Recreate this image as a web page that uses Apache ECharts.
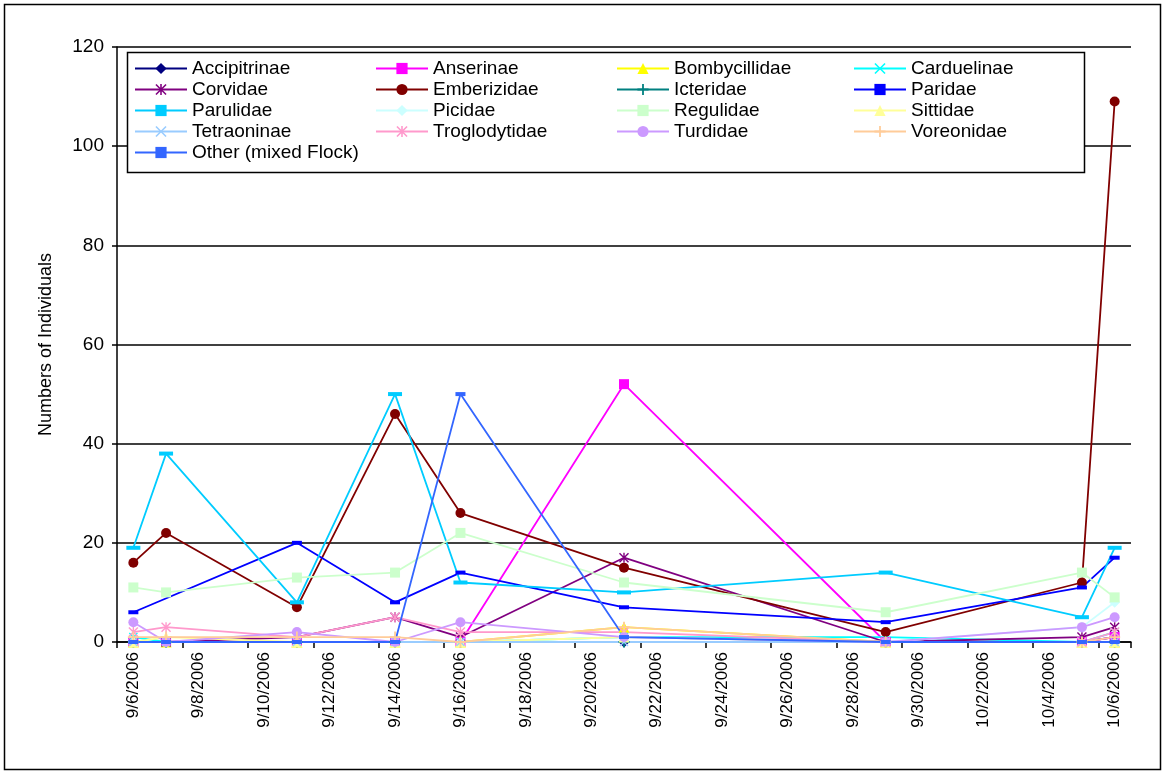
<!DOCTYPE html>
<html>
<head>
<meta charset="utf-8">
<script src="https://cdn.jsdelivr.net/npm/echarts@6/dist/echarts.min.js"></script>
<style>
  html, body { margin: 0; padding: 0; background: #fff; }
  #chart { width: 1167px; height: 775px; }
</style>
</head>
<body>
<div id="chart"></div>
<script>
// Survey days (axis runs day by day from the first to the last survey)
const firstDay = '2006-09-06';
const lastDay = '2006-10-06';
const surveyDates = ['2006-09-06', '2006-09-07', '2006-09-11', '2006-09-14', '2006-09-16',
                     '2006-09-21', '2006-09-29', '2006-10-05', '2006-10-06'];

// Counts per family, one value per survey date (null = not recorded)
const accipitrinae  = [0, 0, 0, 0, 0, 0, 0, 0, 1];
const anserinae     = [0, 0, 0, 0, 0, 52, 0, 0, 1];
const bombycillidae = [0, 0, 0, 0, 0, 3, 0, 0, 0];
const carduelinae   = [1, 0, 0, 0, 0, 1, 1, 0, 2];
const corvidae      = [0, 0, 1, 5, 1, 17, 0, 1, 3];
const emberizidae   = [16, 22, 7, 46, 26, 15, 2, 12, 109];
const icteridae     = [0, 0, 0, 0, 0, 0, 0, 0, 0];
const paridae       = [6, null, 20, 8, 14, 7, 4, 11, 17];
const parulidae     = [19, 38, 8, 50, 12, 10, 14, 5, 19];
const picidae       = [0, 0, 0, 0, 0, 1, 0, 3, 8];
const regulidae     = [11, 10, 13, 14, 22, 12, 6, 14, 9];
const sittidae      = [0, 1, 0, 0, 0, 1, 0, 0, 0];
const tetraoninae   = [0, 0, 0, 0, 0, 0, 0, 0, 0];
const troglodytidae = [2, 3, 1, 5, 2, 2, 0, 0, 2];
const turdidae      = [4, 0, 2, 0, 4, 1, 0, 3, 5];
const voreonidae    = [1, 1, 1, 1, 0, 3, 0, 0, 1];
const otherMixed    = [0, 0, 0, 0, 50, 1, 0, 0, 0];

// Y axis ticks
const yTicks = [0, 20, 40, 60, 80, 100, 120];

// Marker shapes
const X_MARK = 'path://M1,0L5,4L9,0L10,1L6,5L10,9L9,10L5,6L1,10L0,9L4,5L0,1Z';
const STAR_MARK = 'path://M1,0L5,4L9,0L10,1L6,5L10,9L9,10L5,6L1,10L0,9L4,5L0,1ZM4.3,0H5.7V10H4.3Z';
const PLUS_MARK = 'path://M4.2,0H5.8V4.2H10V5.8H5.8V10H4.2V5.8H0V4.2H4.2Z';

const seriesDefs = [
  { name: 'Accipitrinae', data: accipitrinae, color: '#000080', symbol: 'diamond', size: 11 },
  { name: 'Anserinae', data: anserinae, color: '#FF00FF', symbol: 'rect', size: 10 },
  { name: 'Bombycillidae', data: bombycillidae, color: '#FFFF00', symbol: 'triangle', size: 11 },
  { name: 'Carduelinae', data: carduelinae, color: '#00FFFF', symbol: X_MARK, size: 9 },
  { name: 'Corvidae', data: corvidae, color: '#800080', symbol: STAR_MARK, size: 10 },
  { name: 'Emberizidae', data: emberizidae, color: '#800000', symbol: 'circle', size: 10 },
  { name: 'Icteridae', data: icteridae, color: '#008080', symbol: PLUS_MARK, size: 11 },
  { name: 'Paridae', data: paridae, color: '#0000FF', symbol: 'rect', size: [10, 4] },
  { name: 'Parulidae', data: parulidae, color: '#00CCFF', symbol: 'rect', size: [14, 4] },
  { name: 'Picidae', data: picidae, color: '#CCFFFF', symbol: 'diamond', size: 11 },
  { name: 'Regulidae', data: regulidae, color: '#CCFFCC', symbol: 'rect', size: 10 },
  { name: 'Sittidae', data: sittidae, color: '#FFFF99', symbol: 'triangle', size: 11 },
  { name: 'Tetraoninae', data: tetraoninae, color: '#99CCFF', symbol: X_MARK, size: 9 },
  { name: 'Troglodytidae', data: troglodytidae, color: '#FF99CC', symbol: STAR_MARK, size: 10 },
  { name: 'Turdidae', data: turdidae, color: '#CC99FF', symbol: 'circle', size: 10 },
  { name: 'Voreonidae', data: voreonidae, color: '#FFCC99', symbol: PLUS_MARK, size: 11 },
  { name: 'Other (mixed Flock)', data: otherMixed, color: '#3366FF', symbol: 'rect', size: [10, 4] }
];

// Build the daily category axis
function parseDay(s) { const p = s.split('-').map(Number); return new Date(Date.UTC(p[0], p[1] - 1, p[2])); }
const DAY = 86400000;
const startMs = parseDay(firstDay).getTime();
const dayCount = Math.round((parseDay(lastDay).getTime() - startMs) / DAY) + 1;
const dayLabels = [];
for (let i = 0; i < dayCount; i++) {
  const d = new Date(startMs + i * DAY);
  dayLabels.push((d.getUTCMonth() + 1) + '/' + d.getUTCDate() + '/' + d.getUTCFullYear());
}
const surveyIndex = surveyDates.map(s => Math.round((parseDay(s).getTime() - startMs) / DAY));

function toDaily(values) {
  const out = new Array(dayCount).fill(null);
  values.forEach((v, i) => { out[surveyIndex[i]] = v; });
  return out;
}

const FONT = '"Liberation Sans", Arial, sans-serif';

const series = seriesDefs.map(s => ({
  name: s.name,
  type: 'line',
  data: toDaily(s.data),
  connectNulls: true,
  symbol: s.symbol,
  symbolSize: s.size,
  showAllSymbol: true,
  lineStyle: { color: s.color, width: 1.8 },
  itemStyle: { color: s.color, opacity: 1 },
  emphasis: { disabled: true },
  animation: false
}));

// Legend laid out in four columns, filled row by row
const names = seriesDefs.map(s => s.name);
const colLeft = [134, 375, 616, 853];
const legends = colLeft.map((left, c) => ({
  orient: 'vertical',
  left: left,
  top: 58,
  padding: 0,
  itemGap: 0,
  itemWidth: 52,
  itemHeight: 14,
  selectedMode: false,
  z: 60,
  data: names.filter((n, i) => i % 4 === c),
  textStyle: { fontFamily: FONT, fontSize: 19, color: '#000', lineHeight: 21 }
}));

const chart = echarts.init(document.getElementById('chart'), null, { renderer: 'canvas' });
chart.setOption({
  backgroundColor: '#fff',
  animation: false,
  tooltip: { show: false },
  grid: { left: 117, right: 36, top: 47, bottom: 133, containLabel: false },
  legend: legends,
  graphic: {
    elements: [
      { type: 'rect', z: 50, shape: { x: 127.5, y: 52.5, width: 957, height: 120 },
        style: { fill: '#fff', stroke: '#000', lineWidth: 1.5 } },
      { type: 'rect', z: 1, shape: { x: 4.5, y: 4.5, width: 1156, height: 765 },
        style: { fill: 'none', stroke: '#000', lineWidth: 1.5 } }
    ]
  },
  xAxis: {
    type: 'category',
    data: dayLabels,
    boundaryGap: true,
    axisLine: { lineStyle: { color: '#000', width: 1.5 } },
    axisTick: { show: true, interval: 1, length: 6, lineStyle: { color: '#000', width: 1.5 } },
    axisLabel: { interval: 1, rotate: 90, margin: 10, fontFamily: FONT, fontSize: 17, color: '#000' },
    splitLine: { show: false }
  },
  yAxis: {
    type: 'value',
    min: yTicks[0],
    max: yTicks[yTicks.length - 1],
    interval: yTicks[1] - yTicks[0],
    name: 'Numbers of Individuals',
    nameLocation: 'middle',
    nameRotate: 90,
    nameGap: 62,
    nameTextStyle: { fontFamily: FONT, fontSize: 18, color: '#000' },
    axisLine: { show: true, lineStyle: { color: '#000', width: 1.5 } },
    axisTick: { show: true, length: 5, lineStyle: { color: '#000', width: 1.5 } },
    axisLabel: { margin: 13, fontFamily: FONT, fontSize: 19, color: '#000' },
    splitLine: { show: true, lineStyle: { color: '#000', width: 1.5 } }
  },
  series: series
});
</script>
</body>
</html>
